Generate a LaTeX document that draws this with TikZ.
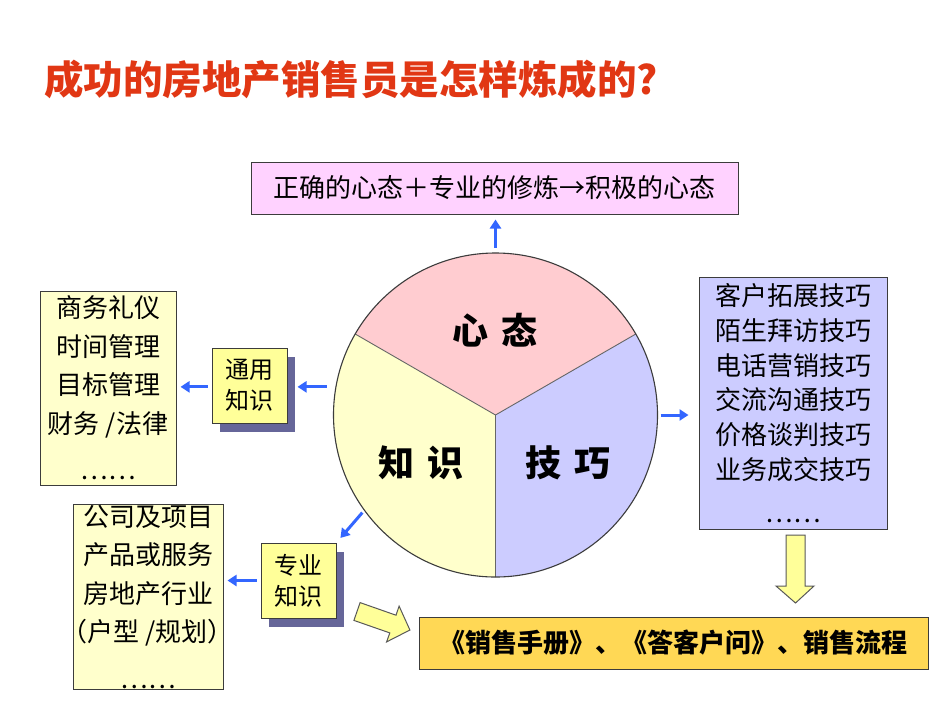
\documentclass[tikz,border=0pt]{standalone}
\usepackage{fontspec}
\setmainfont{Noto Sans CJK SC}
\usetikzlibrary{arrows.meta,shadows}
\definecolor{titlered}{RGB}{225,55,20}
\definecolor{pinkbox}{RGB}{255,210,255}
\definecolor{piepink}{RGB}{255,204,208}
\definecolor{pieyellow}{RGB}{255,255,204}
\definecolor{pieblue}{RGB}{204,204,255}
\definecolor{paleyellow}{RGB}{255,255,204}
\definecolor{brightyellow}{RGB}{255,255,153}
\definecolor{gold}{RGB}{255,216,85}
\definecolor{shadowc}{RGB}{102,102,153}
\definecolor{arrowblue}{RGB}{51,102,255}
\definecolor{edgegray}{RGB}{60,60,60}
\begin{document}
\begin{tikzpicture}[x=1pt,y=-1pt,
  plainbox/.style={draw=edgegray, line width=1pt, inner sep=0pt, align=center},
  txt/.style={font=\fontsize{26pt}{38.5pt}\selectfont},
  smallbox/.style={plainbox, fill=brightyellow, minimum width=75pt, minimum height=75pt,
     font=\fontsize{24pt}{31pt}\selectfont,
     drop shadow={shadow xshift=8pt, shadow yshift=-9pt, fill=shadowc, opacity=1}},
  barrow/.style={draw=arrowblue, line width=3pt, -{Triangle[length=9pt,width=11pt]}},
  blockarrow/.style={draw=gray!70!black, line width=1pt, fill=brightyellow, line join=miter},
  pielabel/.style={font=\fontsize{36pt}{40pt}\selectfont\bfseries}
]
\fill[white] (0,0) rectangle (950,713);
\useasboundingbox (0,0) rectangle (950,713);

% title
\node[anchor=base west, inner sep=0pt, text=titlered, font=\fontsize{39.5pt}{42pt}\selectfont\bfseries] (tt) at (44,94) {成功的房地产销售员是怎样炼成的?};

% top box
\node[plainbox, fill=pinkbox, minimum width=487pt, minimum height=52pt, txt] (topbox) at (494.5,188) {正确的心态＋专业的修炼→积极的心态};

% pie
\node[circle, minimum size=324pt, inner sep=0pt] (circ) at (495.5,415) {};
\begin{scope}[shift={(495.5,415)}, y=1pt]
  \fill[piepink] (0,0) -- (150:162) arc[start angle=150, end angle=30, radius=162] -- cycle;
  \fill[pieyellow] (0,0) -- (270:162) arc[start angle=270, end angle=150, radius=162] -- cycle;
  \fill[pieblue] (0,0) -- (30:162) arc[start angle=30, end angle=-90, radius=162] -- cycle;
  \draw[gray!80!black, line width=0.9pt] (150:162) -- (0,0) -- (30:162) (0,0) -- (270:162);
  \draw[edgegray, line width=1.1pt] (0,0) circle[radius=162];
\end{scope}
\node[pielabel] (xt) at (495,330) {心\hspace{13pt}态};
\node[pielabel] (zs) at (421,463) {知\hspace{13pt}识};
\node[pielabel] (jq) at (568,463) {技\hspace{13pt}巧};

% left boxes
\node[plainbox, fill=paleyellow, minimum width=136pt, minimum height=194pt, txt] (lb1) at (108,388) {商务礼仪\\时间管理\\目标管理\\财务 /法律\\[8pt]……};
\node[smallbox] (gy) at (249.5,385.5) {通用\\知识};
\node[plainbox, fill=paleyellow, minimum width=150pt, minimum height=185pt, txt] (lb2) at (148,597) {公司及项目\\产品或服务\\房地产行业\\\makebox[140pt]{（户型 /规划）}\\[8pt]……};
\node[smallbox] (zy) at (298.5,580.5) {专业\\知识};

% right box
\node[plainbox, fill=pieblue, minimum width=188pt, minimum height=252pt, font=\fontsize{26pt}{34.8pt}\selectfont] (rb) at (793,403) {客户拓展技巧\\陌生拜访技巧\\电话营销技巧\\交流沟通技巧\\价格谈判技巧\\业务成交技巧\\[8pt]……};

% bottom box
\node[plainbox, fill=gold, minimum width=509pt, minimum height=52pt, font=\fontsize{26pt}{30pt}\selectfont\bfseries] (bb) at (673.5,643) {《销售手册》、《答客户问》、销售流程};

% blue arrows
\draw[barrow, shorten <=5pt, shorten >=5pt] (circ.north) -- (circ.north |- topbox.south);
\draw[barrow, shorten <=9pt, shorten >=10pt] (circ.170) -- (circ.170 -| gy.east);
\draw[barrow, shorten <=4pt, shorten >=4pt] (gy.west |- circ.170) -- (circ.170 -| lb1.east);
\draw[barrow, shorten <=4pt, shorten >=4pt] (zy.west) -- (zy.west -| lb2.east);
\draw[barrow, shorten <=3pt, shorten >=6pt] (circ.216) -- (zy.north east);
\draw[barrow, shorten <=3pt, shorten >=10pt] (circ.east) -- (circ.east -| rb.west);

% block arrows
\draw[blockarrow] (786,535) -- (805,535) -- (805,586) -- (814,586) -- (795.5,603) -- (776,586) -- (786,586) -- cycle;
\draw[blockarrow] (360.1,602.6) -- (396.0,615.2) -- (399.1,606.1) -- (409.9,630.0) -- (386.6,641.9) -- (389.8,632.9) -- (353.9,620.4) -- cycle;
\end{tikzpicture}
\end{document}
